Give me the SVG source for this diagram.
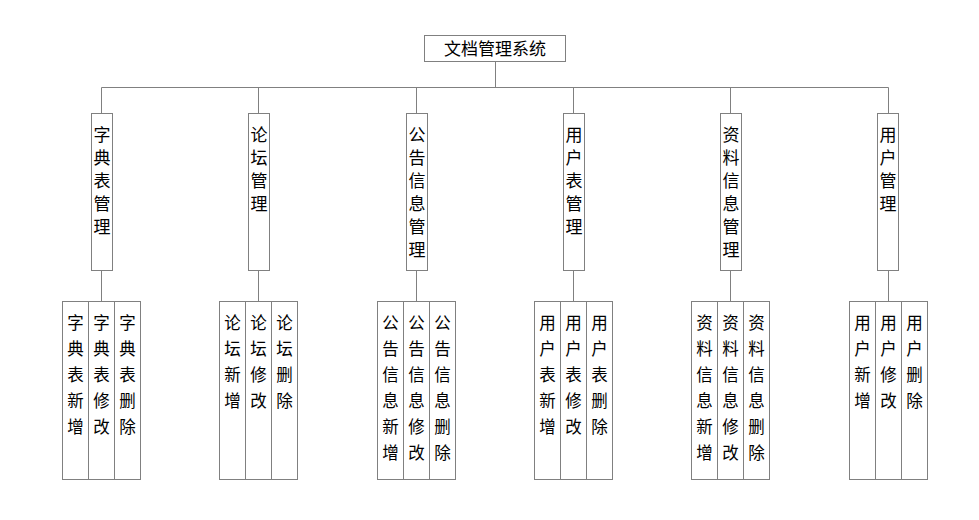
<svg xmlns="http://www.w3.org/2000/svg" width="979" height="520" viewBox="0 0 979 520">
<style>
rect{fill:#fff;stroke:#808080;stroke-width:1}
.c line{stroke:#808080;stroke-width:1}
text{font-family:"Noto Sans CJK SC","Noto Sans",sans-serif;fill:#000;text-anchor:middle}
.t{font-size:17px}
.m{font-size:17px}
.s{font-size:16.5px}
</style>
<g class="c" id="connectors">
<line x1="495.5" y1="61" x2="495.5" y2="87.5"/>
<line x1="101.5" y1="87.5" x2="888.5" y2="87.5"/>
<line x1="101.5" y1="87.5" x2="101.5" y2="113"/>
<line x1="258.5" y1="87.5" x2="258.5" y2="113"/>
<line x1="416.5" y1="87.5" x2="416.5" y2="113"/>
<line x1="573.5" y1="87.5" x2="573.5" y2="113"/>
<line x1="730.5" y1="87.5" x2="730.5" y2="113"/>
<line x1="888.5" y1="87.5" x2="888.5" y2="113"/>
<line x1="101.5" y1="270" x2="101.5" y2="301"/>
<line x1="258.5" y1="270" x2="258.5" y2="301"/>
<line x1="416.5" y1="270" x2="416.5" y2="301"/>
<line x1="573.5" y1="270" x2="573.5" y2="301"/>
<line x1="730.5" y1="270" x2="730.5" y2="301"/>
<line x1="888.5" y1="270" x2="888.5" y2="301"/>
</g>
<g id="root">
<rect x="424.5" y="35.5" width="141" height="26"/>
<text class="t" x="495" y="55">文档管理系统</text>
</g>
<g id="n1">
<rect x="91.5" y="113.5" width="21" height="157"/>
<text class="m" x="102" y="141"><tspan x="102">字</tspan><tspan x="102" dy="23">典</tspan><tspan x="102" dy="23">表</tspan><tspan x="102" dy="23">管</tspan><tspan x="102" dy="23">理</tspan></text>
</g>
<g id="n2">
<rect x="248.5" y="113.5" width="21" height="157"/>
<text class="m" x="259" y="141"><tspan x="259">论</tspan><tspan x="259" dy="23">坛</tspan><tspan x="259" dy="23">管</tspan><tspan x="259" dy="23">理</tspan></text>
</g>
<g id="n3">
<rect x="406.5" y="113.5" width="21" height="157"/>
<text class="m" x="417" y="141"><tspan x="417">公</tspan><tspan x="417" dy="23">告</tspan><tspan x="417" dy="23">信</tspan><tspan x="417" dy="23">息</tspan><tspan x="417" dy="23">管</tspan><tspan x="417" dy="23">理</tspan></text>
</g>
<g id="n4">
<rect x="563.5" y="113.5" width="21" height="157"/>
<text class="m" x="574" y="141"><tspan x="574">用</tspan><tspan x="574" dy="23">户</tspan><tspan x="574" dy="23">表</tspan><tspan x="574" dy="23">管</tspan><tspan x="574" dy="23">理</tspan></text>
</g>
<g id="n5">
<rect x="720.5" y="113.5" width="21" height="157"/>
<text class="m" x="731" y="141"><tspan x="731">资</tspan><tspan x="731" dy="23">料</tspan><tspan x="731" dy="23">信</tspan><tspan x="731" dy="23">息</tspan><tspan x="731" dy="23">管</tspan><tspan x="731" dy="23">理</tspan></text>
</g>
<g id="n6">
<rect x="877.5" y="113.5" width="21" height="157"/>
<text class="m" x="888" y="141"><tspan x="888">用</tspan><tspan x="888" dy="23">户</tspan><tspan x="888" dy="23">管</tspan><tspan x="888" dy="23">理</tspan></text>
</g>
<g id="n1a"><rect x="62.5" y="301.5" width="26" height="178"/><text class="s" y="329"><tspan x="75.5">字</tspan><tspan x="75.5" dy="26">典</tspan><tspan x="75.5" dy="26">表</tspan><tspan x="75.5" dy="26">新</tspan><tspan x="75.5" dy="26">增</tspan></text></g>
<g id="n1b"><rect x="88.5" y="301.5" width="26" height="178"/><text class="s" y="329"><tspan x="101.5">字</tspan><tspan x="101.5" dy="26">典</tspan><tspan x="101.5" dy="26">表</tspan><tspan x="101.5" dy="26">修</tspan><tspan x="101.5" dy="26">改</tspan></text></g>
<g id="n1c"><rect x="114.5" y="301.5" width="26" height="178"/><text class="s" y="329"><tspan x="127.5">字</tspan><tspan x="127.5" dy="26">典</tspan><tspan x="127.5" dy="26">表</tspan><tspan x="127.5" dy="26">删</tspan><tspan x="127.5" dy="26">除</tspan></text></g>
<g id="n2a"><rect x="219.5" y="301.5" width="26" height="178"/><text class="s" y="329"><tspan x="232.5">论</tspan><tspan x="232.5" dy="26">坛</tspan><tspan x="232.5" dy="26">新</tspan><tspan x="232.5" dy="26">增</tspan></text></g>
<g id="n2b"><rect x="245.5" y="301.5" width="26" height="178"/><text class="s" y="329"><tspan x="258.5">论</tspan><tspan x="258.5" dy="26">坛</tspan><tspan x="258.5" dy="26">修</tspan><tspan x="258.5" dy="26">改</tspan></text></g>
<g id="n2c"><rect x="271.5" y="301.5" width="26" height="178"/><text class="s" y="329"><tspan x="284.5">论</tspan><tspan x="284.5" dy="26">坛</tspan><tspan x="284.5" dy="26">删</tspan><tspan x="284.5" dy="26">除</tspan></text></g>
<g id="n3a"><rect x="377.5" y="301.5" width="26" height="178"/><text class="s" y="329"><tspan x="390.5">公</tspan><tspan x="390.5" dy="26">告</tspan><tspan x="390.5" dy="26">信</tspan><tspan x="390.5" dy="26">息</tspan><tspan x="390.5" dy="26">新</tspan><tspan x="390.5" dy="26">增</tspan></text></g>
<g id="n3b"><rect x="403.5" y="301.5" width="26" height="178"/><text class="s" y="329"><tspan x="416.5">公</tspan><tspan x="416.5" dy="26">告</tspan><tspan x="416.5" dy="26">信</tspan><tspan x="416.5" dy="26">息</tspan><tspan x="416.5" dy="26">修</tspan><tspan x="416.5" dy="26">改</tspan></text></g>
<g id="n3c"><rect x="429.5" y="301.5" width="26" height="178"/><text class="s" y="329"><tspan x="442.5">公</tspan><tspan x="442.5" dy="26">告</tspan><tspan x="442.5" dy="26">信</tspan><tspan x="442.5" dy="26">息</tspan><tspan x="442.5" dy="26">删</tspan><tspan x="442.5" dy="26">除</tspan></text></g>
<g id="n4a"><rect x="534.5" y="301.5" width="26" height="178"/><text class="s" y="329"><tspan x="547.5">用</tspan><tspan x="547.5" dy="26">户</tspan><tspan x="547.5" dy="26">表</tspan><tspan x="547.5" dy="26">新</tspan><tspan x="547.5" dy="26">增</tspan></text></g>
<g id="n4b"><rect x="560.5" y="301.5" width="26" height="178"/><text class="s" y="329"><tspan x="573.5">用</tspan><tspan x="573.5" dy="26">户</tspan><tspan x="573.5" dy="26">表</tspan><tspan x="573.5" dy="26">修</tspan><tspan x="573.5" dy="26">改</tspan></text></g>
<g id="n4c"><rect x="586.5" y="301.5" width="26" height="178"/><text class="s" y="329"><tspan x="599.5">用</tspan><tspan x="599.5" dy="26">户</tspan><tspan x="599.5" dy="26">表</tspan><tspan x="599.5" dy="26">删</tspan><tspan x="599.5" dy="26">除</tspan></text></g>
<g id="n5a"><rect x="691.5" y="301.5" width="26" height="178"/><text class="s" y="329"><tspan x="704.5">资</tspan><tspan x="704.5" dy="26">料</tspan><tspan x="704.5" dy="26">信</tspan><tspan x="704.5" dy="26">息</tspan><tspan x="704.5" dy="26">新</tspan><tspan x="704.5" dy="26">增</tspan></text></g>
<g id="n5b"><rect x="717.5" y="301.5" width="26" height="178"/><text class="s" y="329"><tspan x="730.5">资</tspan><tspan x="730.5" dy="26">料</tspan><tspan x="730.5" dy="26">信</tspan><tspan x="730.5" dy="26">息</tspan><tspan x="730.5" dy="26">修</tspan><tspan x="730.5" dy="26">改</tspan></text></g>
<g id="n5c"><rect x="743.5" y="301.5" width="26" height="178"/><text class="s" y="329"><tspan x="756.5">资</tspan><tspan x="756.5" dy="26">料</tspan><tspan x="756.5" dy="26">信</tspan><tspan x="756.5" dy="26">息</tspan><tspan x="756.5" dy="26">删</tspan><tspan x="756.5" dy="26">除</tspan></text></g>
<g id="n6a"><rect x="849.5" y="301.5" width="26" height="178"/><text class="s" y="329"><tspan x="862.5">用</tspan><tspan x="862.5" dy="26">户</tspan><tspan x="862.5" dy="26">新</tspan><tspan x="862.5" dy="26">增</tspan></text></g>
<g id="n6b"><rect x="875.5" y="301.5" width="26" height="178"/><text class="s" y="329"><tspan x="888.5">用</tspan><tspan x="888.5" dy="26">户</tspan><tspan x="888.5" dy="26">修</tspan><tspan x="888.5" dy="26">改</tspan></text></g>
<g id="n6c"><rect x="901.5" y="301.5" width="26" height="178"/><text class="s" y="329"><tspan x="914.5">用</tspan><tspan x="914.5" dy="26">户</tspan><tspan x="914.5" dy="26">删</tspan><tspan x="914.5" dy="26">除</tspan></text></g>
</svg>
